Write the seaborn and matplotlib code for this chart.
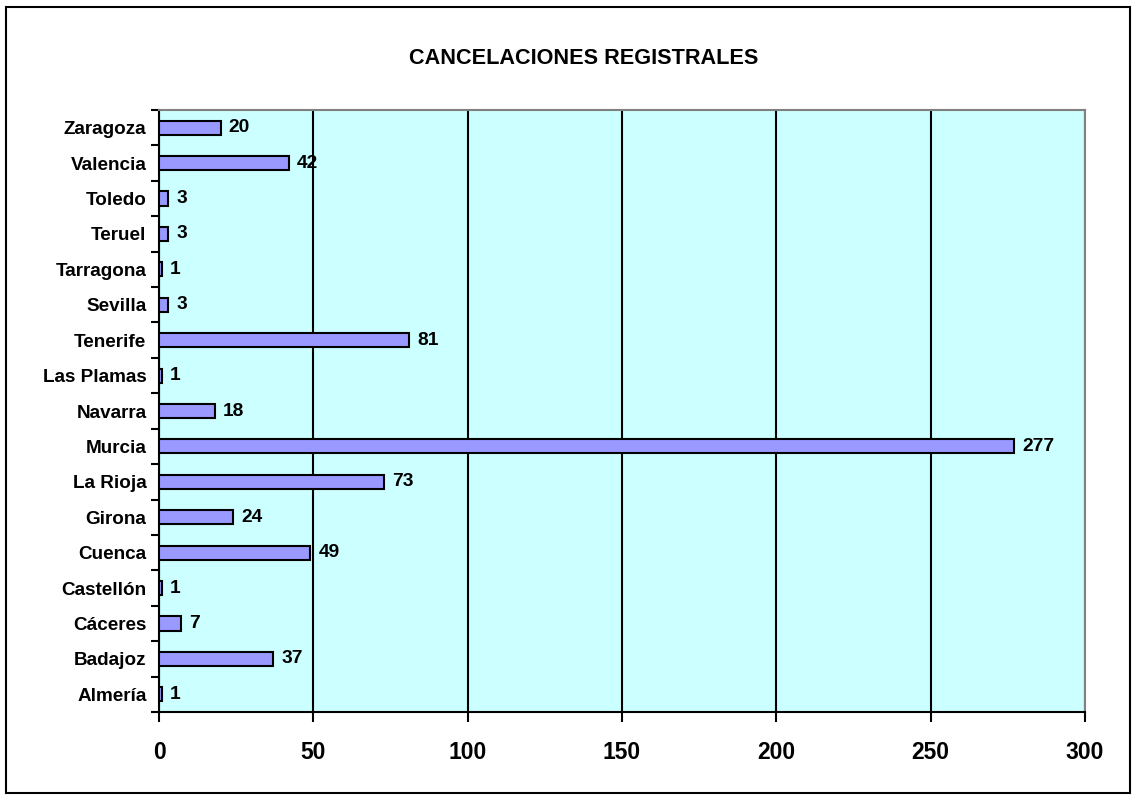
# Cancelaciones registrales - horizontal bar chart
import numpy as np
import pandas as pd
import matplotlib
matplotlib.use("Agg")
import matplotlib.pyplot as plt
import seaborn as sns

# -------------------------
# Data (top to bottom as drawn)
# -------------------------
provincias = ["Zaragoza", "Valencia", "Toledo", "Teruel", "Tarragona", "Sevilla",
              "Tenerife", "Las Plamas", "Navarra", "Murcia", "La Rioja", "Girona",
              "Cuenca", "Castellón", "Cáceres", "Badajoz", "Almería"]
cancelaciones = [20, 42, 3, 3, 1, 3, 81, 1, 18, 277, 73, 24, 49, 1, 7, 37, 1]
x_ticks = [0, 50, 100, 150, 200, 250, 300]

df = pd.DataFrame({"provincia": provincias, "valor": cancelaciones})

sns.set_style("white", {"xtick.bottom": True, "ytick.left": True,
                        "text.color": "black", "xtick.color": "black",
                        "ytick.color": "black", "axes.labelcolor": "black"})
plt.rcParams['font.family'] = ['Liberation Sans', 'DejaVu Sans']

fig = plt.figure(figsize=(11.36, 7.99), dpi=100)
ax = fig.add_axes([159 / 1136, 1 - 712 / 799, (1085 - 159) / 1136, (712 - 110) / 799])
ax.set_facecolor("#CCFFFF")

sns.barplot(data=df, y="provincia", x="valor", order=provincias, orient="h",
            color="#9999FF", edgecolor="black", linewidth=1.5, width=0.4,
            saturation=1, ax=ax, zorder=3)

# value labels
for i, v in enumerate(cancelaciones):
    ax.text(v + 2.6, i, str(v), va="center", ha="left", fontsize=13.8,
            fontweight="bold", color="black", zorder=4)

ax.set_xlim(0, 300)
ax.set_ylim(len(provincias) - 0.5, -0.5)
ax.set_xticks(x_ticks)
ax.set_xticklabels([str(t) for t in x_ticks], fontsize=16.5, fontweight="bold")
ax.tick_params(axis="x", length=7, width=1.5, direction="out", pad=14,
               colors="black", bottom=True)

ax.set_yticks(range(len(provincias)))
ax.set_yticklabels(provincias, fontsize=13.6, fontweight="bold")
ax.set_yticks(np.arange(-0.5, len(provincias)), minor=True)
ax.tick_params(axis="y", which="major", length=0, pad=9, colors="black")
ax.tick_params(axis="y", which="minor", length=6, width=1.5, direction="out",
               left=True, colors="black")

ax.xaxis.grid(True, color="black", linewidth=1.5, zorder=1)
ax.set_axisbelow(True)
ax.set_xlabel("")
ax.set_ylabel("")

ax.spines["left"].set_color("black")
ax.spines["left"].set_linewidth(1.5)
ax.spines["bottom"].set_color("black")
ax.spines["bottom"].set_linewidth(1.5)
ax.spines["top"].set_color("#808080")
ax.spines["top"].set_linewidth(1.5)
ax.spines["right"].set_color("#808080")
ax.spines["right"].set_linewidth(1.5)

fig.text(584 / 1136, 1 - 58 / 799, "CANCELACIONES REGISTRALES", ha="center", va="center",
         fontsize=15.6, fontweight="bold", color="black")

# outer border of the chart
fig.patches.append(plt.Rectangle((6 / 1136, 1 - 793 / 799), 1124 / 1136, 786 / 799,
                                 transform=fig.transFigure, fill=False,
                                 edgecolor="black", linewidth=1.5))

fig.savefig("out.png", dpi=100)
